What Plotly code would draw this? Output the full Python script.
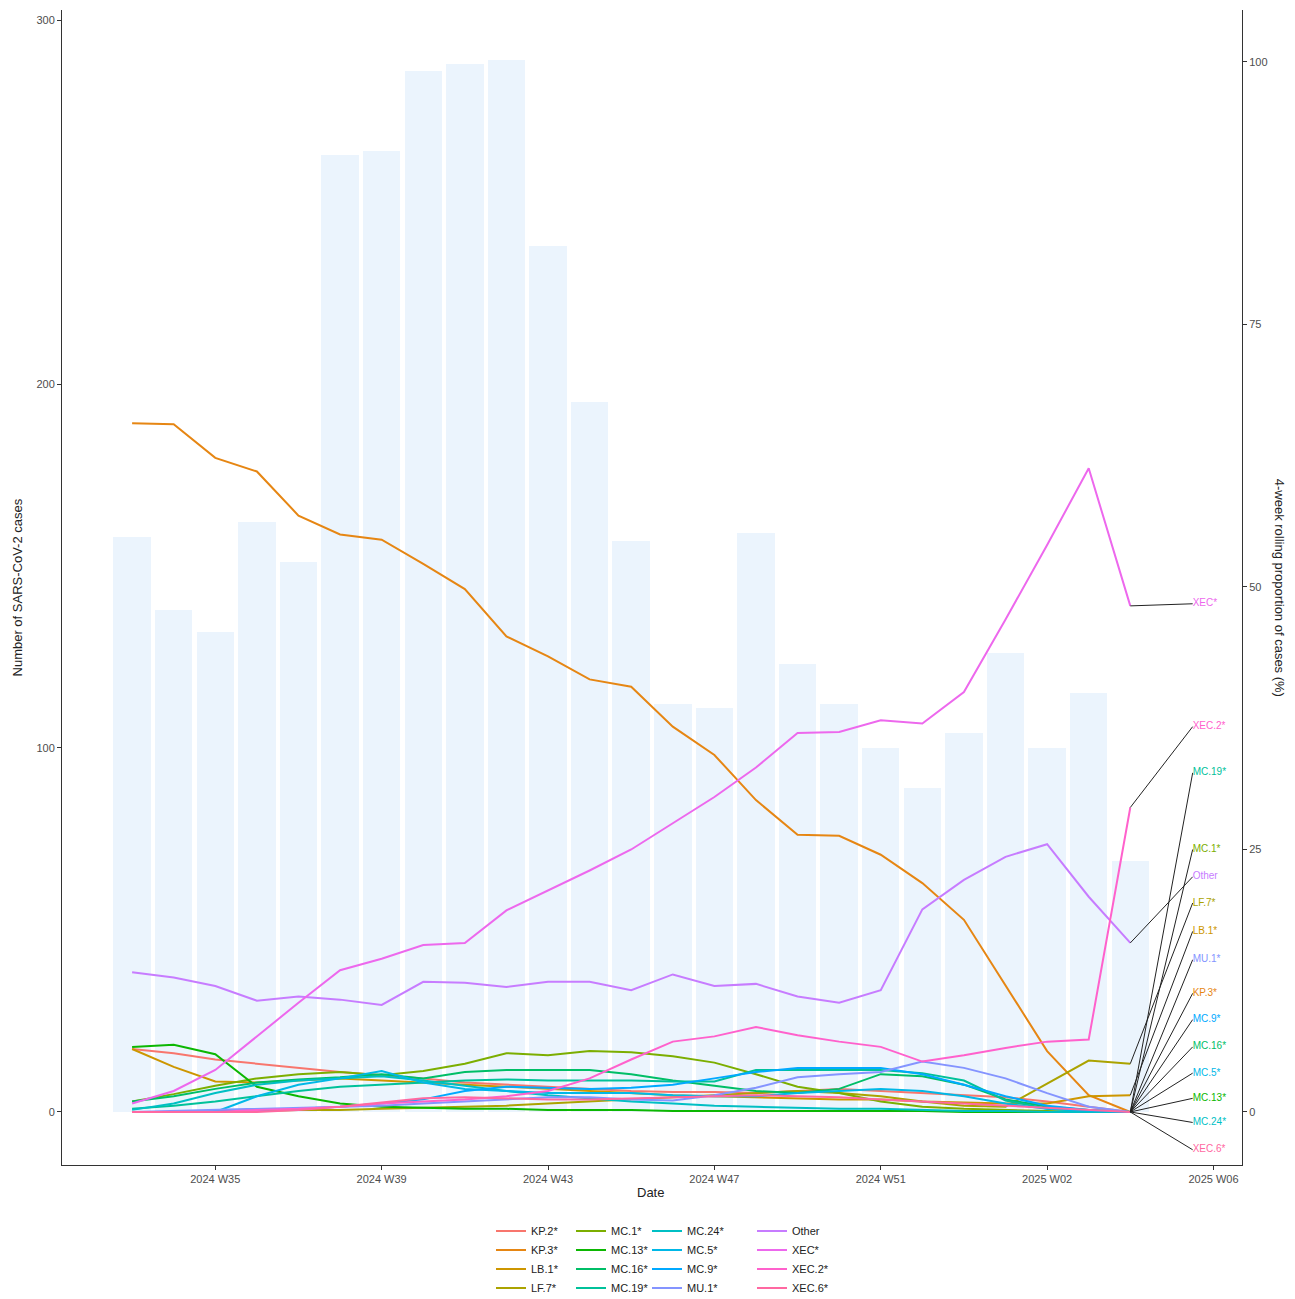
import math

import pandas as pd
import plotly.graph_objects as go

# weekly counts (bars, left axis) and 4-week rolling proportions in % (lines, right axis)
weeks = pd.date_range("2024-08-12", periods=25, freq="7D")
cases = [158, 138, 132, 162, 151, 263, 264, 286, 288, 289, 238, 195, 157,
         112, 111, 159, 123, 112, 100, 89, 104, 126, 100, 115, 69]

variants = ["KP.2*", "KP.3*", "LB.1*", "LF.7*", "MC.1*", "MC.13*", "MC.16*", "MC.19*",
            "MC.24*", "MC.5*", "MC.9*", "MU.1*", "Other", "XEC*", "XEC.2*", "XEC.6*"]

kp2 = [6.0, 5.6, 5.0, 4.6, 4.2, 3.8, 3.5, 3.2, 2.8, 2.6, 2.4, 2.2, 2.0,
       1.9, 1.9, 1.8, 2.0, 2.2, 2.0, 1.8, 1.6, 1.4, 1.0, 0.5, 0.0]
kp3 = [65.6, 65.5, 62.3, 61.0, 56.8, 55.0, 54.5, 52.2, 49.8, 45.3, 43.4, 41.2, 40.5,
       36.7, 34.0, 29.7, 26.4, 26.3, 24.5, 21.8, 18.3, 12.0, 5.8, 1.6, 0.0]
lb1 = [6.0, 4.3, 2.9, 2.8, 3.0, 3.2, 3.0, 2.8, 2.6, 2.4, 2.2, 2.0, 1.8,
       1.6, 1.5, 1.4, 1.3, 1.2, 1.2, 1.0, 0.9, 0.8, 0.8, 1.5, 1.6]
lf7 = [0.0, 0.0, 0.1, 0.1, 0.2, 0.2, 0.3, 0.4, 0.5, 0.6, 0.8, 1.0, 1.2,
       1.4, 1.6, 1.8, 2.0, 1.8, 1.5, 1.0, 0.6, 0.5, 2.7, 4.9, 4.6]
mc1 = [1.0, 1.7, 2.5, 3.2, 3.6, 3.8, 3.5, 3.9, 4.6, 5.6, 5.4, 5.8, 5.7,
       5.3, 4.7, 3.6, 2.4, 1.8, 1.0, 0.5, 0.3, 0.2, 0.1, 0.0, 0.0]
mc13 = [6.2, 6.4, 5.5, 2.4, 1.5, 0.8, 0.5, 0.4, 0.3, 0.3, 0.2, 0.2, 0.2,
        0.1, 0.1, 0.1, 0.1, 0.1, 0.1, 0.1, 0.0, 0.0, 0.0, 0.0, 0.0]
mc16 = [1.0, 1.5, 2.2, 2.8, 3.1, 3.3, 3.6, 3.2, 3.8, 4.0, 4.0, 4.0, 3.6,
        3.0, 2.5, 2.0, 1.8, 2.2, 3.6, 3.4, 2.6, 1.2, 0.5, 0.2, 0.0]
mc19 = [0.3, 0.6, 1.0, 1.5, 2.0, 2.4, 2.6, 2.8, 3.0, 3.1, 3.0, 3.0, 3.0,
        2.9, 2.9, 4.0, 4.0, 4.0, 4.0, 3.7, 3.0, 1.1, 0.3, 0.1, 0.0]
mc24 = [0.2, 0.8, 1.8, 2.6, 3.0, 3.2, 3.4, 3.0, 2.5, 2.0, 1.6, 1.3, 1.0,
        0.8, 0.6, 0.5, 0.4, 0.3, 0.3, 0.2, 0.1, 0.1, 0.0, 0.0, 0.0]
mc5 = [0.0, 0.0, 0.0, 1.5, 2.6, 3.2, 3.9, 2.8, 2.2, 2.0, 1.8, 1.8, 1.8,
       1.6, 1.5, 1.5, 1.8, 2.0, 2.2, 2.0, 1.5, 0.8, 0.3, 0.1, 0.0]
mc9 = [0.0, 0.0, 0.1, 0.2, 0.3, 0.5, 0.8, 1.2, 2.0, 2.4, 2.3, 2.2, 2.3,
       2.6, 3.2, 3.8, 4.2, 4.2, 4.2, 3.6, 2.6, 1.5, 0.6, 0.2, 0.0]
mu1 = [0.0, 0.1, 0.2, 0.3, 0.4, 0.5, 0.6, 0.8, 1.0, 1.2, 1.4, 1.4, 1.2,
       1.1, 1.6, 2.3, 3.3, 3.6, 3.8, 4.8, 4.2, 3.2, 1.8, 0.5, 0.0]
other = [13.3, 12.8, 12.0, 10.6, 11.0, 10.7, 10.2, 12.4, 12.3, 11.9, 12.4, 12.4, 11.6,
         13.1, 12.0, 12.2, 11.0, 10.4, 11.6, 19.3, 22.1, 24.3, 25.5, 20.5, 16.1]
xec = [0.8, 2.0, 4.0, 7.2, 10.4, 13.5, 14.6, 15.9, 16.1, 19.2, 21.1, 23.0, 25.0,
       27.5, 30.0, 32.8, 36.1, 36.2, 37.3, 37.0, 40.0, 46.9, 54.0, 61.3, 48.2]
xec2 = [0.0, 0.0, 0.0, 0.2, 0.3, 0.5, 0.8, 1.0, 1.2, 1.5, 2.0, 3.2, 5.0,
        6.7, 7.2, 8.1, 7.3, 6.7, 6.2, 4.8, 5.4, 6.1, 6.7, 6.9, 29.0]
xec6 = [0.0, 0.0, 0.0, 0.0, 0.2, 0.5, 0.9, 1.3, 1.4, 1.3, 1.2, 1.2, 1.3,
        1.4, 1.5, 1.6, 1.5, 1.4, 1.2, 1.0, 0.8, 0.6, 0.4, 0.2, 0.0]

series = dict(zip(variants, [kp2, kp3, lb1, lf7, mc1, mc13, mc16, mc19,
                             mc24, mc5, mc9, mu1, other, xec, xec2, xec6]))

# repelled end labels, top to bottom (KP.2* has none)
label_names = ["XEC*", "XEC.2*", "MC.19*", "MC.1*", "Other", "LF.7*", "LB.1*", "MU.1*",
               "KP.3*", "MC.9*", "MC.16*", "MC.5*", "MC.13*", "MC.24*", "XEC.6*"]
label_y = [48.4, 36.7, 32.3, 25.0, 22.4, 19.9, 17.2, 14.5,
           11.3, 8.8, 6.2, 3.7, 1.3, -1.0, -3.6]


def hue_colour(h, c=100, l=65):
    # ggplot's default hue palette (polar LUV -> sRGB)
    Xn, Yn, Zn = 95.047, 100.0, 108.883
    un = 4 * Xn / (Xn + 15 * Yn + 3 * Zn)
    vn = 9 * Yn / (Xn + 15 * Yn + 3 * Zn)
    Y = Yn * ((l + 16) / 116) ** 3
    u = c * math.cos(math.radians(h)) / (13 * l) + un
    v = c * math.sin(math.radians(h)) / (13 * l) + vn
    X = 9 * Y * u / (4 * v)
    Z = Y * (12 - 3 * u - 20 * v) / (4 * v)
    X, Y, Z = X / 100, Y / 100, Z / 100
    rgb = [3.240479 * X - 1.537150 * Y - 0.498535 * Z,
           -0.969256 * X + 1.875992 * Y + 0.041556 * Z,
           0.055648 * X - 0.204043 * Y + 1.057311 * Z]
    out = []
    for ch in rgb:
        ch = 1.055 * ch ** (1 / 2.4) - 0.055 if ch > 0.0031308 else 12.92 * ch
        out.append(int(round(min(max(ch, 0), 1) * 255)))
    return "#%02X%02X%02X" % tuple(out)


n = len(variants)
colours = {name: hue_colour(15 + k * 360 / n) for k, name in enumerate(variants)}

W, H = 1279, 1291  # page body adds an 8px margin
fig = go.Figure()

fig.add_trace(go.Bar(x=weeks, y=cases, marker=dict(color="#EBF4FD", line=dict(width=0)),
                     width=0.9 * 7 * 86400000, showlegend=False, yaxis="y"))

legend_ids = ["legend", "legend2", "legend3", "legend4"]
for k, name in enumerate(variants):
    fig.add_trace(go.Scatter(x=weeks, y=series[name], mode="lines", name=name,
                             line=dict(color=colours[name], width=2),
                             legend=legend_ids[k // 4], yaxis="y2"))

# label segments from the last point of each series
seg_x = weeks[-1] + pd.Timedelta(days=10.5)
for name, ly in zip(label_names, label_y):
    fig.add_trace(go.Scatter(x=[weeks[-1], seg_x], y=[series[name][-1], ly], mode="lines",
                             line=dict(color="#222222", width=1), showlegend=False,
                             hoverinfo="skip", yaxis="y2"))

fig.add_trace(go.Scatter(x=[seg_x] * len(label_names), y=label_y, mode="text",
                         text=label_names, textposition="middle right",
                         textfont=dict(size=10, color=[colours[nm] for nm in label_names]),
                         showlegend=False, cliponaxis=False, yaxis="y2"))

tick_font = dict(size=11, color="#4D4D4D")
axis_style = dict(showline=True, linecolor="#333333", linewidth=1, ticks="outside",
                  ticklen=4, tickcolor="#333333", showgrid=False, zeroline=False,
                  tickfont=tick_font, automargin=False)

legend_px = [483, 563, 639, 744]
legends = {}
for lid, px in zip(legend_ids, legend_px):
    legends[lid] = dict(x=px / W, y=1 - 1208.5 / H, xref="container", yref="container",
                        xanchor="left", yanchor="top", orientation="v",
                        font=dict(size=11, color="#222222"),
                        bgcolor="rgba(0,0,0,0)", tracegroupgap=0, itemwidth=30)

fig.update_layout(
    width=W, height=H,
    margin=dict(l=54, r=45, t=2, b=H - 1157, autoexpand=False),
    paper_bgcolor="white", plot_bgcolor="white",
    font=dict(family="Liberation Sans, Arial, sans-serif", color="#222222"),
    xaxis=dict(type="date",
               range=[weeks[0] - pd.Timedelta(days=11.8), weeks[0] + pd.Timedelta(days=186.8)],
               tick0="2024-08-26", dtick=28 * 86400000, tickformat="%Y W%W", **axis_style),
    yaxis=dict(range=[-14.6, 302.8], tickvals=[0, 100, 200, 300], **axis_style),
    yaxis2=dict(range=[-5.05, 104.95], tickvals=[0, 25, 50, 75, 100], overlaying="y",
                side="right", **axis_style),
    bargap=0,
    **legends,
    annotations=[
        dict(text="Number of SARS-CoV-2 cases", xref="paper", yref="paper",
             x=-0.0373, y=0.5, textangle=-90, showarrow=False,
             xanchor="center", yanchor="middle", font=dict(size=13, color="#222222")),
        dict(text="4-week rolling proportion of cases (%)", xref="paper", yref="paper",
             x=1.032, y=0.5, textangle=90, showarrow=False,
             xanchor="center", yanchor="middle", font=dict(size=13, color="#222222")),
        dict(text="Date", xref="paper", yref="paper", x=(650 - 62) / 1180, y=-0.0242,
             showarrow=False, xanchor="center", yanchor="middle",
             font=dict(size=13, color="#222222")),
    ],
)

fig.write_html("out.html")
